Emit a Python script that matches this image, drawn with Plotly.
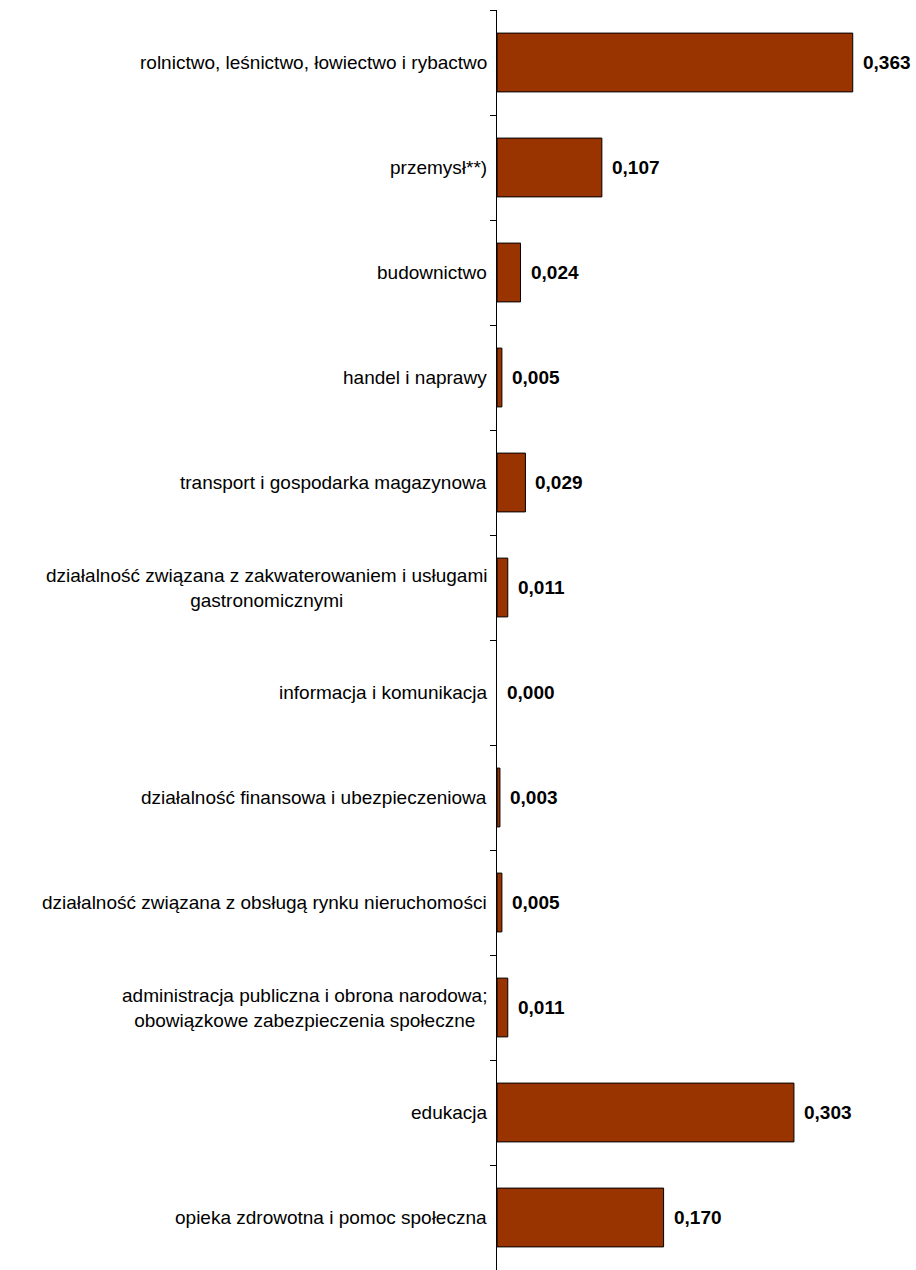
import plotly.graph_objects as go

# sectors (top to bottom) and their values
categories = [
    "rolnictwo, leśnictwo, łowiectwo i rybactwo",
    "przemysł**)",
    "budownictwo",
    "handel i naprawy",
    "transport i gospodarka magazynowa",
    "działalność związana z zakwaterowaniem i usługami<br>gastronomicznymi",
    "informacja i komunikacja",
    "działalność finansowa i ubezpieczeniowa",
    "działalność związana z obsługą rynku nieruchomości",
    "administracja publiczna i obrona narodowa;<br>obowiązkowe zabezpieczenia społeczne",
    "edukacja",
    "opieka zdrowotna i pomoc społeczna",
]
values = [0.363, 0.107, 0.024, 0.005, 0.029, 0.011, 0.000, 0.003, 0.005, 0.011, 0.303, 0.170]

FONT = "Liberation Sans, Arial, sans-serif"

fig = go.Figure()
fig.add_trace(go.Bar(
    x=values,
    y=categories,
    orientation="h",
    marker=dict(color="#993300",
                line=dict(color="#000000", width=[1 if v > 0 else 0 for v in values])),
    width=0.56,
    hoverinfo="x+y",
))

annotations = []
for cat, val in zip(categories, values):
    # category label, centred lines like the original
    annotations.append(dict(
        x=0, y=cat, xref="x", yref="y", text=cat, showarrow=False,
        xanchor="right", xshift=-8, align="center",
        font=dict(family=FONT, size=19, color="#000000"),
    ))
    # value label
    annotations.append(dict(
        x=val, y=cat, xref="x", yref="y", text="<b>" + f"{val:.3f}".replace(".", ",") + "</b>",
        showarrow=False, xanchor="left", xshift=8,
        font=dict(family=FONT, size=19, color="#000000"),
    ))

fig.update_layout(
    width=916,
    height=1270,
    margin=dict(l=497, r=27, t=10, b=0),
    plot_bgcolor="white",
    paper_bgcolor="white",
    showlegend=False,
    annotations=annotations,
    xaxis=dict(range=[0, 0.4], visible=False, fixedrange=True),
    yaxis=dict(
        autorange="reversed",
        showticklabels=False,
        showline=True,
        linecolor="#000000",
        linewidth=1,
        ticks="outside",
        ticklen=6,
        tickcolor="#000000",
        tickson="boundaries",
        showgrid=False,
        zeroline=False,
    ),
)

# drop the default body margin so the figure fills the window exactly
fig.write_html("out.html", config={"displayModeBar": False},
               post_script="document.body.style.margin='0';")
